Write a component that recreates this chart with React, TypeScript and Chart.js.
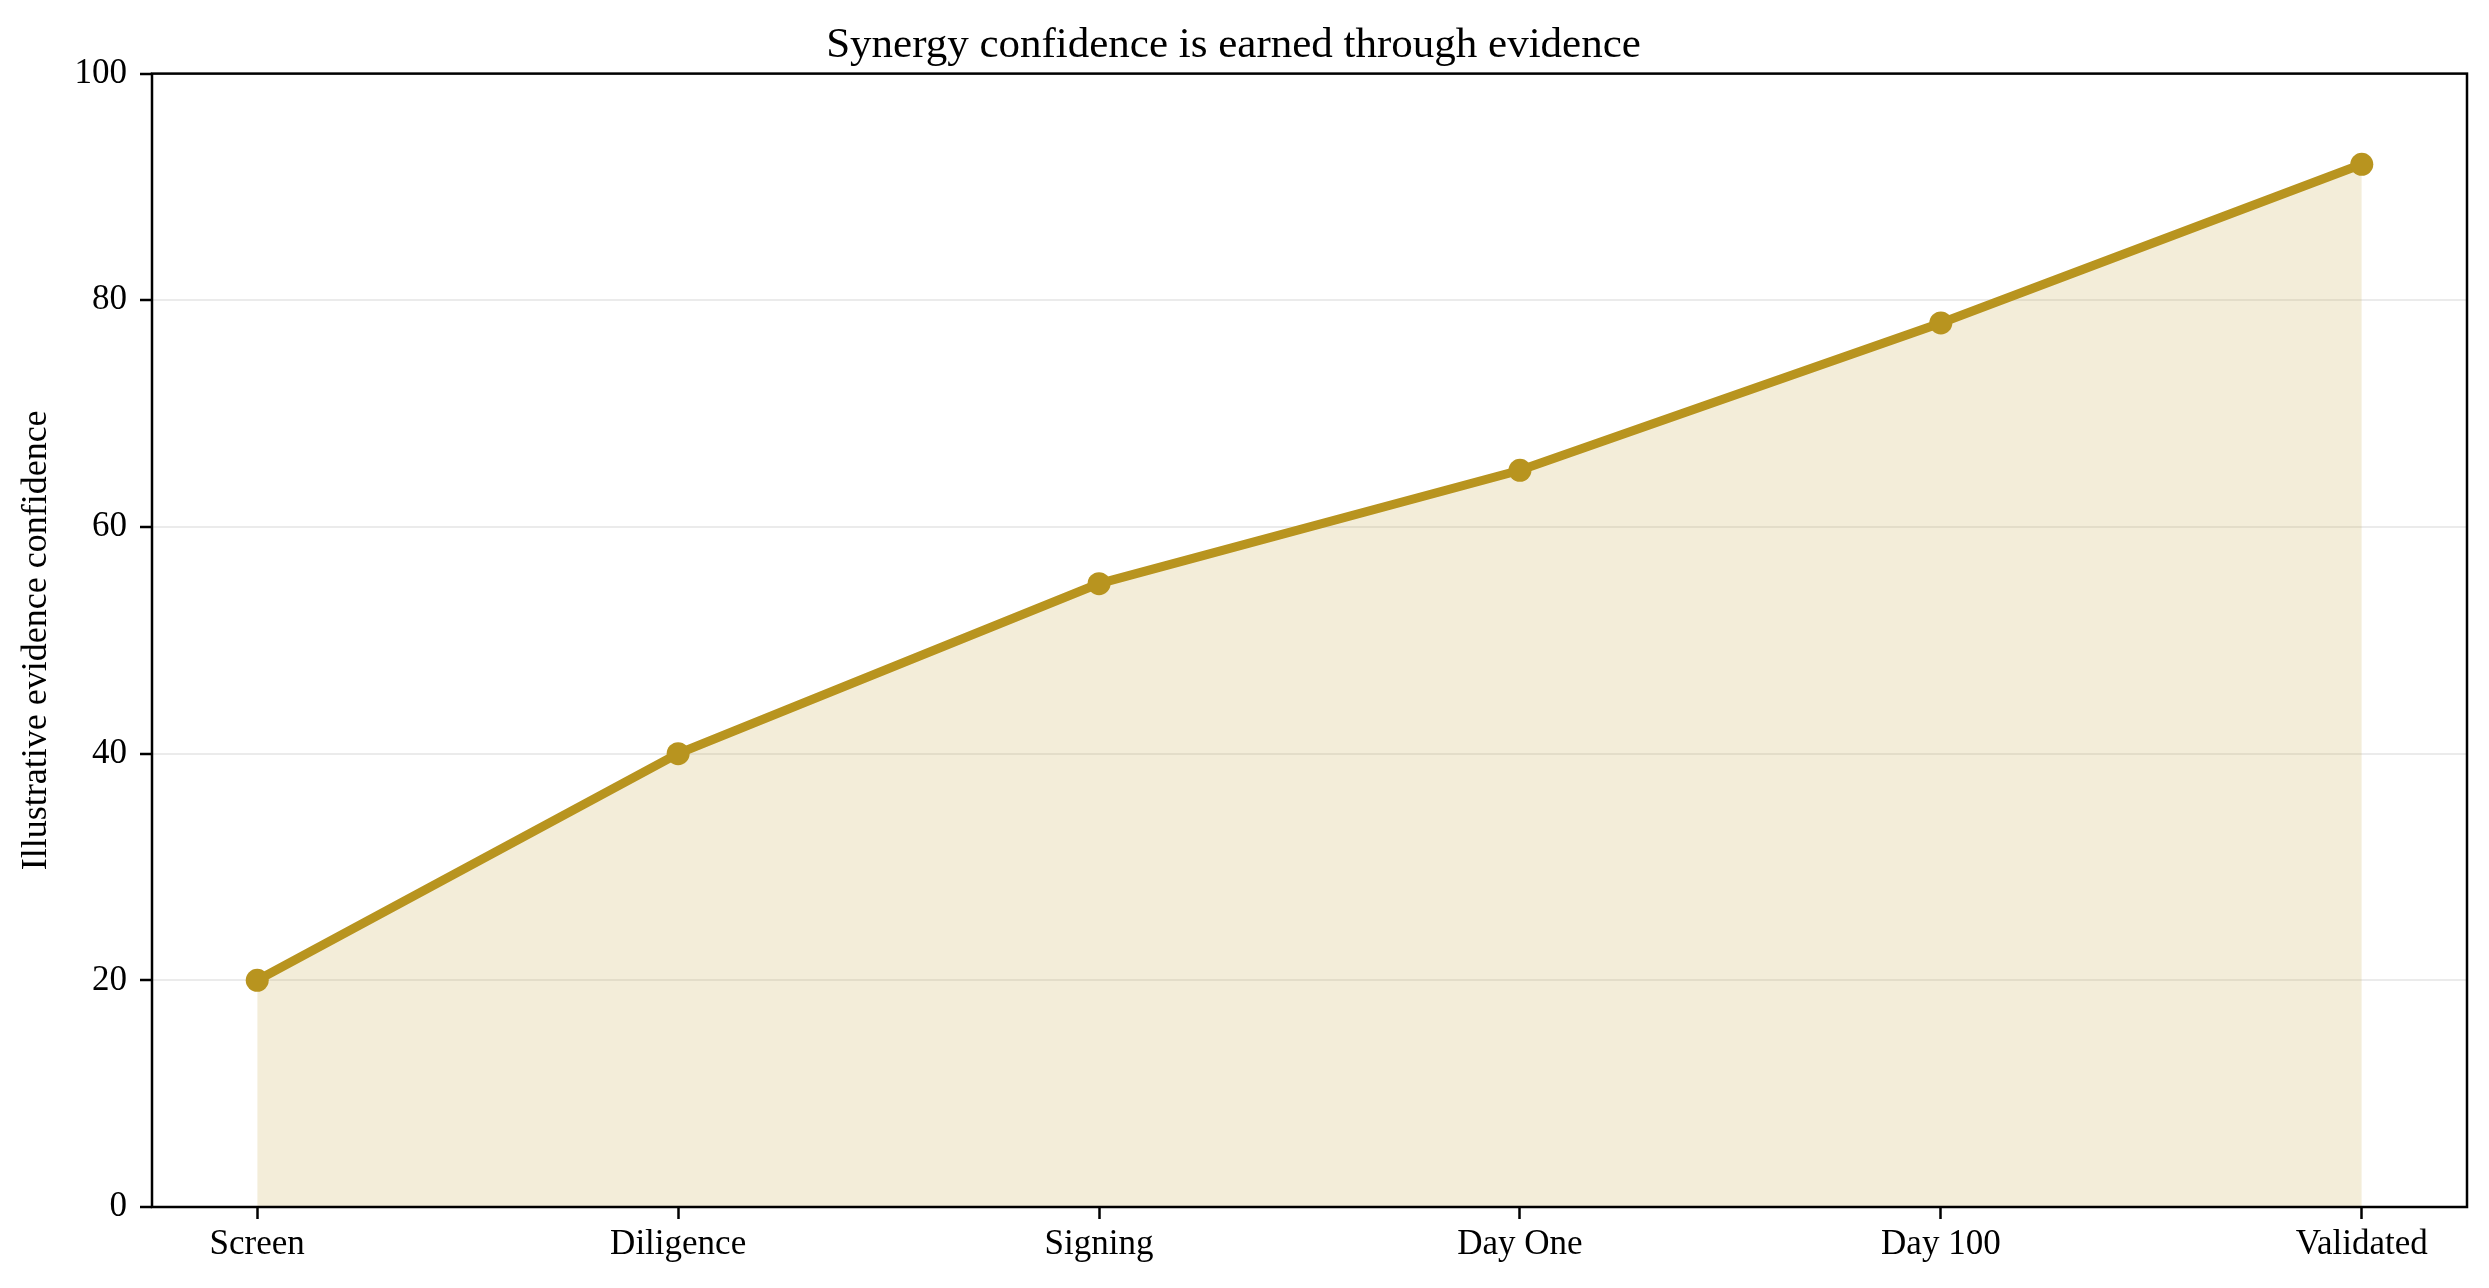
import { useEffect, useRef } from "react";
import { Chart, registerables } from "chart.js";

Chart.register(...registerables);

const stages = ["Screen", "Diligence", "Signing", "Day One", "Day 100", "Validated"];
const confidence = [20, 40, 55, 65, 78, 92];
const yTicks = [0, 20, 40, 60, 80, 100];

const SERIF = '"Liberation Serif", "Times New Roman", serif';
const GOLD = "rgb(184, 148, 31)";

// 枠線(上・右も含めて)を描く
const frame = {
    id: "frame",
    afterDatasetsDraw(chart: Chart) {
        const { ctx, chartArea } = chart;
        ctx.save();
        ctx.strokeStyle = "#000";
        ctx.lineWidth = 2.5;
        ctx.strokeRect(chartArea.left, chartArea.top, chartArea.right - chartArea.left, chartArea.bottom - chartArea.top);
        ctx.restore();
    },
};

export default function App() {
    const canvasRef = useRef<HTMLCanvasElement>(null);

    useEffect(() => {
        if (!canvasRef.current) return;
        const ctx = canvasRef.current.getContext("2d");
        if (!ctx) return;

        const chart = new Chart(ctx, {
            type: "line",
            data: {
                datasets: [
                    {
                        data: stages.map((_, i) => ({ x: i, y: confidence[i] })),
                        borderColor: GOLD,
                        backgroundColor: "rgba(184, 148, 31, 0.17)",
                        fill: "origin",
                        borderWidth: 9,
                        pointRadius: 11.5,
                        pointBackgroundColor: GOLD,
                        pointBorderWidth: 0,
                        tension: 0,
                    },
                ],
            },
            plugins: [frame],
            options: {
                animation: false,
                responsive: false,
                devicePixelRatio: 1,
                layout: { padding: { left: 0, right: 22, top: 0, bottom: 0 } },
                plugins: {
                    legend: { display: false },
                    tooltip: { enabled: false },
                    title: {
                        display: true,
                        text: "Synergy confidence is earned through evidence",
                        color: "#000",
                        font: { family: SERIF, size: 43, weight: "normal" },
                        padding: { top: 20, bottom: 2 },
                    },
                },
                scales: {
                    x: {
                        type: "linear",
                        min: -0.25,
                        max: 5.25,
                        afterBuildTicks: (scale: any) => {
                            scale.ticks = stages.map((_, i) => ({ value: i }));
                        },
                        afterFit: (scale: any) => {
                            scale.height = 81;
                        },
                        ticks: {
                            autoSkip: false,
                            maxRotation: 0,
                            padding: 5,
                            color: "#000",
                            font: { family: SERIF, size: 35 },
                            callback: (v: any) => stages[v] ?? "",
                        },
                        grid: {
                            drawOnChartArea: false,
                            drawTicks: true,
                            tickLength: 12,
                            tickColor: "#000",
                            tickWidth: 2.5,
                        },
                        border: { display: false },
                    },
                    y: {
                        min: 0,
                        max: 100,
                        afterBuildTicks: (scale: any) => {
                            scale.ticks = yTicks.map((v) => ({ value: v }));
                        },
                        afterFit: (scale: any) => {
                            scale.width = 152;
                        },
                        ticks: {
                            padding: 13,
                            color: "#000",
                            font: { family: SERIF, size: 35 },
                        },
                        grid: {
                            color: "rgba(0, 0, 0, 0.08)",
                            lineWidth: 2,
                            drawTicks: true,
                            tickLength: 12,
                            tickColor: "#000",
                            tickWidth: 2.5,
                        },
                        border: { display: false },
                        title: {
                            display: true,
                            text: "Illustrative evidence confidence",
                            color: "#000",
                            font: { family: SERIF, size: 36 },
                            padding: { top: 15, bottom: 0 },
                        },
                    },
                },
            },
        });

        return () => {
            chart.destroy();
        };
    }, []);

    return (
        <div style={{ position: "fixed", left: 0, top: 0, background: "#fff" }}>
            <canvas ref={canvasRef} width={2489} height={1288} style={{ display: "block", width: 2489, height: 1288 }} />
        </div>
    );
}
